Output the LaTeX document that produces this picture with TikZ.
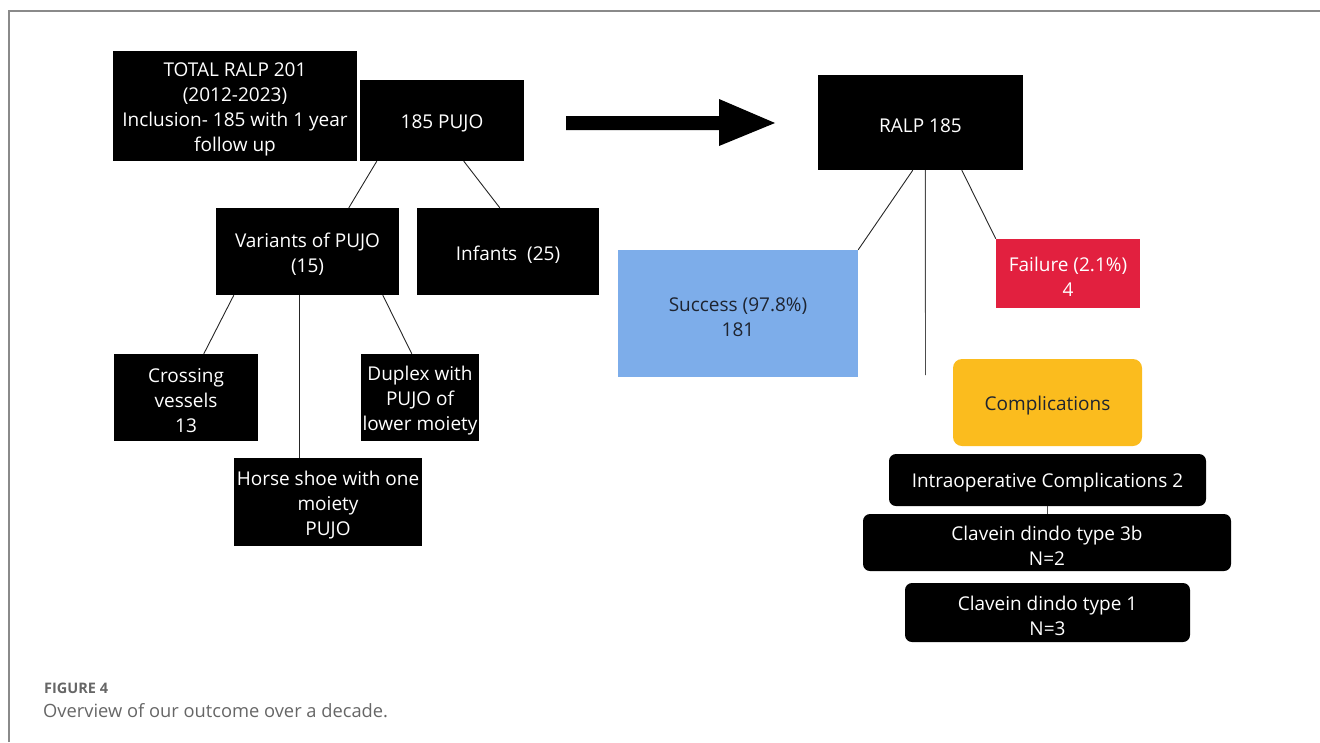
\documentclass[tikz,border=0pt]{standalone}
\usepackage{fontspec}
\setmainfont{Open Sans}
\definecolor{succ}{HTML}{7DADEA}
\definecolor{fail}{HTML}{E2203F}
\definecolor{comp}{HTML}{FBBC1E}
\definecolor{framegray}{HTML}{8A8A8A}
\definecolor{capgray}{HTML}{666666}
\definecolor{darktext}{HTML}{1E2430}
\newcommand\lowr{\rule{0pt}{20.5pt}}
\begin{document}
\begin{tikzpicture}[x=1pt,y=-1pt,
  box/.style={fill=black, text=white, inner sep=0pt, align=center,
    font=\fontsize{19}{24.7}\selectfont},
  rbox/.style={box, rounded corners=7pt},
  conn/.style={draw=black!85, line width=0.9pt},
  captext/.style={anchor=base west, inner sep=0pt, text=capgray}]
\useasboundingbox (0,0) rectangle (1320,742);
\draw[framegray, line width=1.4pt] (9,742) -- (9,11) -- (1320,11);

% left tree
\node[box, minimum width=244pt, minimum height=110pt] (total) at (235,106)
  {\lowr TOTAL RALP 201\\(2012-2023)\\Inclusion- 185 with 1 year\\follow up};
\node[box, minimum width=164pt, minimum height=81pt] (pujo) at (442,120.5) {\lowr 185 PUJO};
\node[box, minimum width=183pt, minimum height=87pt] (var) at (307.5,251.5) {\lowr Variants of PUJO\\(15)};
\node[box, minimum width=182pt, minimum height=87pt] (inf) at (508,251.5) {\lowr Infants\ \ (25)};
\node[box, minimum width=144pt, minimum height=87pt] (cross) at (186,397.5) {\lowr Crossing\\vessels\\13};
\node[box, minimum width=118pt, minimum height=87pt] (dup) at (420,397.5) {\lowr Duplex with\\PUJO of\\lower moiety};
\node[box, minimum width=188pt, minimum height=88pt] (horse) at (328,502) {\lowr Horse shoe with one\\moiety\\PUJO};

\draw[conn] ([xshift=17pt]pujo.south west) -- ([xshift=133pt]var.north west);
\draw[conn] ([xshift=104pt]pujo.south west) -- ([xshift=83pt]inf.north west);
\draw[conn] ([xshift=18pt]var.south west) -- ([xshift=90pt]cross.north west);
\draw[conn] ([xshift=84pt]var.south west) -- ([xshift=66pt]horse.north west);
\draw[conn] ([xshift=167pt]var.south west) -- ([xshift=51pt]dup.north west);

% big arrow
\fill[black] (566,116) -- (719,116) -- (719,99) -- (775,123) -- (719,146) -- (719,130) -- (566,130) -- cycle;

% right tree
\node[box, minimum width=205pt, minimum height=95pt] (ralp) at (920.5,122.5) {\lowr RALP 185};
\node[box, fill=succ, text=darktext, minimum width=240pt, minimum height=127pt] (succ) at (738,313.5) {\lowr Success (97.8\%)\\181};
\node[box, fill=fail, minimum width=144pt, minimum height=69pt] (fail) at (1068,273.5) {\lowr Failure (2.1\%)\\4};
\node[rbox, fill=comp, text=darktext, rounded corners=9pt, minimum width=189pt, minimum height=87pt] (comp) at (1047.5,402.5) {\lowr Complications};
\node[rbox, minimum width=317pt, minimum height=52pt] (intra) at (1047.5,480) {\lowr Intraoperative Complications 2};
\node[rbox, minimum width=368pt, minimum height=57pt] (cl3) at (1047,542.5) {\lowr Clavein dindo type 3b\\N=2};
\node[rbox, minimum width=285pt, minimum height=59pt] (cl1) at (1047.5,612.5) {\lowr Clavein dindo type 1\\N=3};
\coordinate (midend) at (925.5,375);

\draw[conn] ([xshift=95pt]ralp.south west) -- (succ.north east);
\draw[conn, draw=black!70] ([xshift=107.5pt]ralp.south west) -- (midend);
\draw[conn] ([xshift=144pt]ralp.south west) -- (fail.north west);
\draw[conn, draw=black!70] (intra.south) -- (intra.south |- cl3.north);

% caption
\node[captext, font=\fontsize{14.5}{16}\selectfont\bfseries] (figlabel) at (44,693) {FIGURE 4};
\node[captext, font=\fontsize{18.3}{20}\selectfont] (figcap) at (43,717) {Overview of our outcome over a decade.};
\end{tikzpicture}
\end{document}
